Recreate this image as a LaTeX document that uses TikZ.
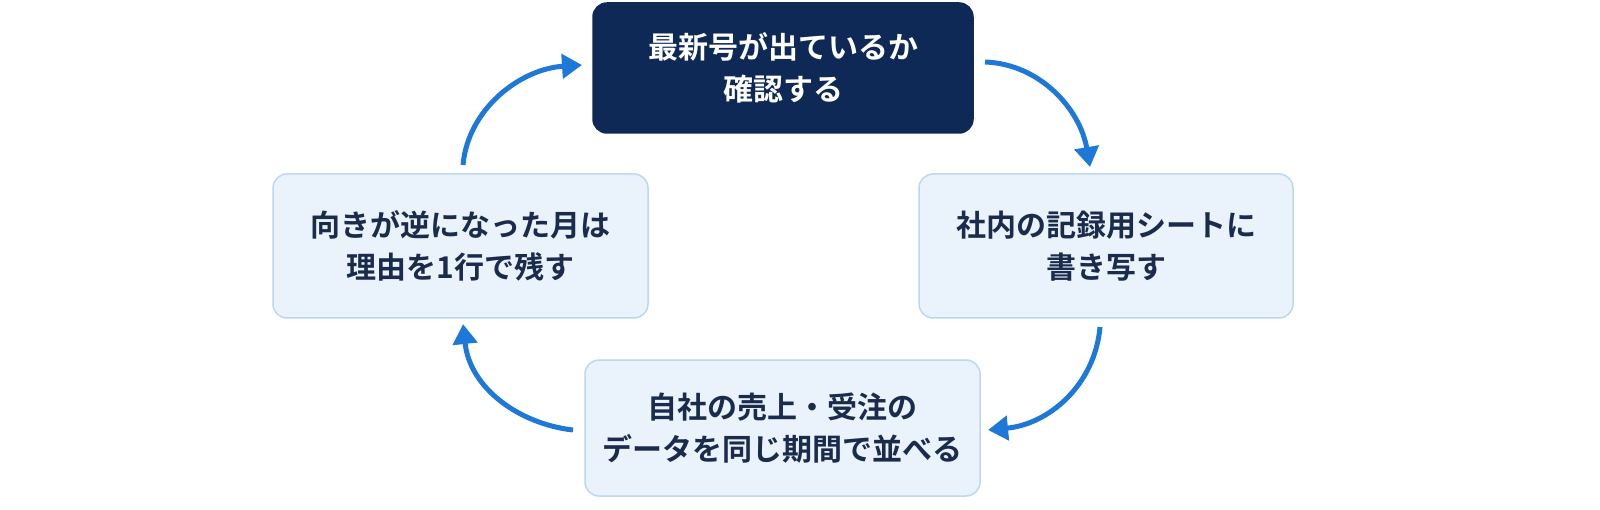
\documentclass[tikz,border=0pt]{standalone}
\usepackage{fontspec}
\newfontfamily\jp{Noto Sans CJK JP}[BoldFont={Noto Sans CJK JP Bold}]
\usetikzlibrary{arrows.meta}
\definecolor{navy}{HTML}{0F2956}
\definecolor{lightfill}{HTML}{EAF3FC}
\definecolor{lightborder}{HTML}{BCD7F0}
\definecolor{arrowblue}{HTML}{1E78D8}
\definecolor{txt}{HTML}{1A2B4C}
\begin{document}
\begin{tikzpicture}[x=1pt,y=1pt,
  box/.style={rounded corners=14pt,draw=lightborder,line width=1.5pt,fill=lightfill,align=center,font=\jp\bfseries\fontsize{30}{42}\selectfont,text=txt,inner sep=0pt},
  dark/.style={box,fill=navy,draw=navy,text=white},
  arr/.style={draw=arrowblue,line width=5pt,-{Triangle[length=20pt,width=24pt]}}]
\useasboundingbox (0,0) rectangle (1600,509);
\node[dark,minimum width=380pt,minimum height=130pt] (top) at (783,441) {最新号が出ているか\\確認する};
\node[box,minimum width=374pt,minimum height=144pt] (right) at (1106,263) {社内の記録用シートに\\書き写す};
\node[box,minimum width=395pt,minimum height=136pt] (bottom) at (782.5,81) {自社の売上・受注の\\データを同じ期間で並べる};
\node[box,minimum width=375pt,minimum height=144pt] (left) at (460.5,263) {向きが逆になった月は\\理由を1行で残す};
\coordinate (a1) at (463,344); \coordinate (a1e) at (582,444);
\coordinate (b1) at (985,447); \coordinate (b1e) at (1090,342);
\coordinate (c1) at (1100,182); \coordinate (c1e) at (988,79);
\coordinate (d1) at (573,79); \coordinate (d1e) at (463,185);
\draw[arr] (a1) .. controls (468,400) and (520,440) .. (a1e);
\draw[arr] (b1) .. controls (1040,445) and (1080,400) .. (b1e);
\draw[arr] (c1) .. controls (1095,125) and (1050,85) .. (c1e);
\draw[arr] (d1) .. controls (520,85) and (470,120) .. (d1e);
\end{tikzpicture}
\end{document}
